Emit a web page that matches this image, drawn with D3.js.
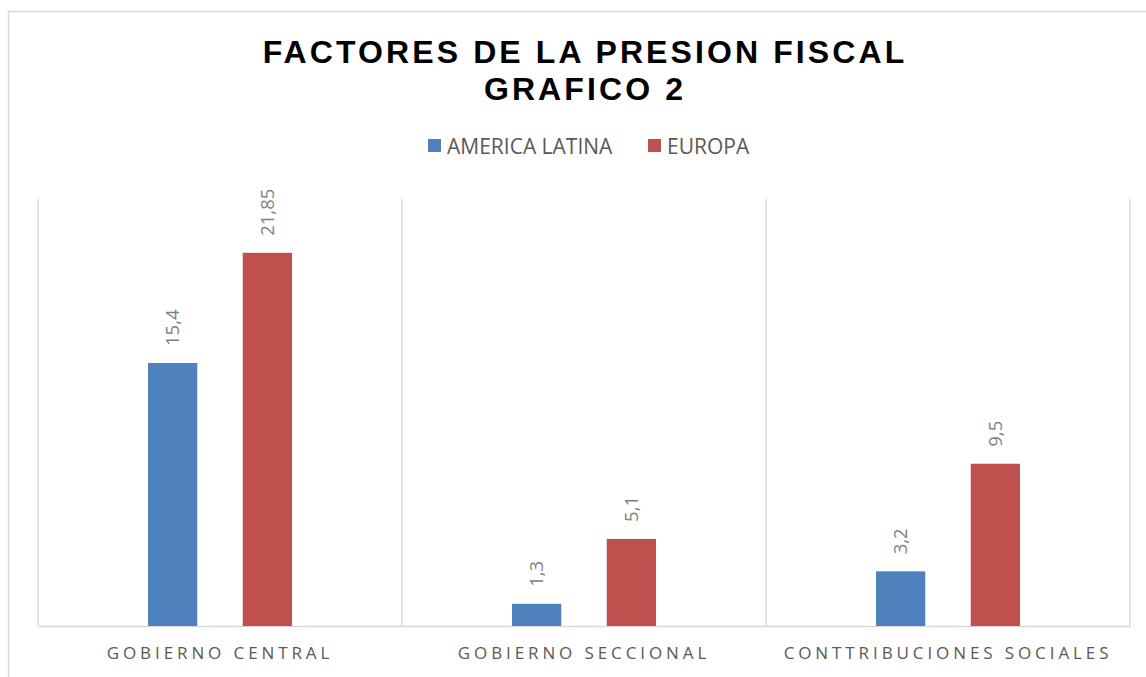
<!DOCTYPE html>
<html>
<head>
  <meta charset="utf-8">
  <title>Factores de la presion fiscal</title>
  <script src="https://d3js.org/d3.v7.min.js"></script>
  <style>
    body { margin: 0; background: #fff; }
    svg { display: block; }
  </style>
</head>
<body>
  <svg id="chart" width="1146" height="677"></svg>
  <script>
    // datos del grafico
    var categorias = ["GOBIERNO CENTRAL", "GOBIERNO SECCIONAL", "CONTTRIBUCIONES SOCIALES"];
    var series = ["AMERICA LATINA", "EUROPA"];
    var americaLatina = [15.4, 1.3, 3.2];
    var europa = [21.85, 5.1, 9.5];
    var etiquetas = [["15,4", "1,3", "3,2"], ["21,85", "5,1", "9,5"]];
    var colores = ["#4F81BD", "#C0504D"];

    var svg = d3.select("#chart");
    var margin = { top: 199, right: 16, bottom: 51, left: 38 };
    var width = 1146 - margin.left - margin.right;
    var height = 677 - margin.top - margin.bottom;

    // borde exterior del grafico
    svg.append("rect")
      .attr("x", 8.5).attr("y", 11.5)
      .attr("width", 1160).attr("height", 690)
      .attr("fill", "none").attr("stroke", "#d9d9d9").attr("stroke-width", 1.5);

    // titulo
    var titulo = svg.append("text")
      .attr("text-anchor", "middle")
      .style("font-family", "Liberation Sans, Arial, sans-serif")
      .style("font-weight", "bold")
      .style("font-size", "32px")
      .style("letter-spacing", "3.1px")
      .attr("fill", "#000");
    titulo.append("tspan").attr("x", 585).attr("y", 63).text("FACTORES DE LA PRESION FISCAL");
    titulo.append("tspan").attr("x", 585).attr("y", 100).text("GRAFICO 2");

    // leyenda
    var legendX = [428, 648];
    series.forEach(function(s, i) {
      svg.append("rect")
        .attr("x", legendX[i]).attr("y", 139)
        .attr("width", 13).attr("height", 13)
        .attr("fill", colores[i]);
      svg.append("text")
        .attr("x", legendX[i] + 19).attr("y", 154)
        .style("font-family", "Open Sans, Liberation Sans, sans-serif")
        .style("font-size", "21px")
        .attr("fill", "#595959")
        .text(s);
    });

    var g = svg.append("g")
      .attr("transform", "translate(" + margin.left + "," + margin.top + ")");

    var x0 = d3.scaleBand().domain(categorias).range([0, width]).padding(0);
    var x1 = d3.scaleBand().domain(series).range([x0.bandwidth() / 2 - 72, x0.bandwidth() / 2 + 72]).paddingInner(0.48);
    var y = d3.scaleLinear().domain([0, 25]).range([height, 0]);

    // lineas verticales entre categorias
    var bordes = categorias.map(function(c) { return x0(c); }).concat([width]);
    g.selectAll(".grid")
      .data(bordes)
      .enter().append("line")
        .attr("x1", function(d) { return d; })
        .attr("x2", function(d) { return d; })
        .attr("y1", 0).attr("y2", height)
        .attr("stroke", "#d9d9d9").attr("stroke-width", 1.5);

    // eje x
    var ejeX = g.append("g")
      .attr("transform", "translate(0," + height + ")")
      .call(d3.axisBottom(x0).tickSize(0).tickPadding(21));
    ejeX.select(".domain").attr("stroke", "#d9d9d9").attr("stroke-width", 1.5);
    ejeX.selectAll("text")
      .style("font-family", "Open Sans, Liberation Sans, sans-serif")
      .style("font-size", "17px")
      .style("letter-spacing", "3.9px")
      .attr("fill", "#595959");

    // barras
    var valores = [americaLatina, europa];
    var datos = [];
    categorias.forEach(function(c, ci) {
      series.forEach(function(s, si) {
        datos.push({ cat: c, serie: s, si: si, v: valores[si][ci], label: etiquetas[si][ci] });
      });
    });

    g.selectAll(".bar")
      .data(datos)
      .enter().append("rect")
        .attr("class", "bar")
        .attr("x", function(d) { return x0(d.cat) + x1(d.serie); })
        .attr("y", function(d) { return y(d.v); })
        .attr("width", x1.bandwidth())
        .attr("height", function(d) { return height - y(d.v); })
        .attr("fill", function(d) { return colores[d.si]; });

    // etiquetas de datos
    g.selectAll(".lbl")
      .data(datos)
      .enter().append("text")
        .attr("class", "lbl")
        .attr("transform", function(d) {
          var cx = x0(d.cat) + x1(d.serie) + x1.bandwidth() / 2 + 6.5;
          return "translate(" + cx + "," + (y(d.v) - 17) + ") rotate(-90)";
        })
        .style("font-family", "Open Sans, Liberation Sans, sans-serif")
        .style("font-size", "18.5px")
        .attr("fill", "#7f7f7f")
        .text(function(d) { return d.label; });
  </script>
</body>
</html>
